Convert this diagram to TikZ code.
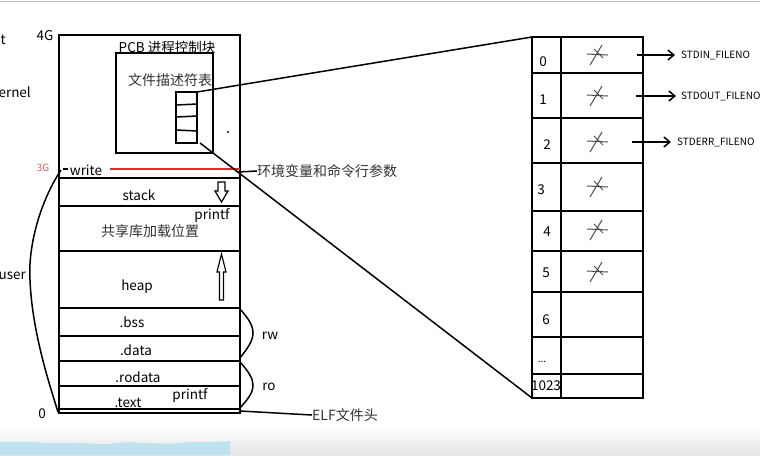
\documentclass[tikz,border=0pt]{standalone}
\usepackage{fontspec}
\setmainfont{Noto Sans CJK SC}
\usetikzlibrary{arrows.meta}
\definecolor{redline}{RGB}{228,40,40}
\definecolor{redtxt}{RGB}{225,90,90}
\definecolor{bandblue}{RGB}{190,226,238}
\begin{document}
\begin{tikzpicture}[x=1pt,y=-1pt,
  lbl/.style={inner sep=0pt, font=\fontsize{13.5}{15}\selectfont, text=black},
  smalllbl/.style={inner sep=0pt, font=\fontsize{10}{12}\selectfont, text=black},
  cjk/.style={inner sep=0pt, font=\fontsize{14}{16}\selectfont, text=black!80},
  boxline/.style={line width=2pt, black},
  thin/.style={line width=1.5pt, black},
  tick/.pic={\draw[black!70, line width=1pt] (-10,-1)--(11,0) (-7,10)--(5,-10) (-3,-6)--(6,3);},
  hollowarrow/.style={draw=black, line width=1.2pt, fill=white}
]
\useasboundingbox (0,0) rectangle (760,455);
\clip (0,0) rectangle (760,455);
\fill[white] (0,0) rectangle (760,455);
% screenshot frame
\shade[top color=white, bottom color=black!10] (0,425) rectangle (760,455);
\fill[bandblue] (0,455) -- (0,442) .. controls (30,441) and (50,444) .. (70,443)
  .. controls (90,442) and (100,446) .. (115,443) .. controls (140,441) and (160,445) .. (180,443)
  .. controls (200,441) and (215,443) .. (230,441) -- (230,455) -- cycle;
\draw[black!25, line width=1.5pt] (0,1.5) -- (760,1.5);

% ---------------- memory layout box ----------------
\coordinate (mtl) at (59,35);
\coordinate (mbr) at (240,413);
\draw[boxline] (mtl) rectangle (mbr);
\foreach \yy in {178,206,251,308,336,361,386,409}
  \draw[boxline] (59,\yy) -- (240,\yy);

% red 3G line
\coordinate (redL) at (110,169);
\coordinate (redR) at (240,169);
\draw[redline, line width=1.6pt] (redL) -- (redR);

% PCB box
\node[lbl] (pcb) at (167,47) {PCB 进程控制块};
\draw[boxline] (116,53) rectangle (213,153);
\node[cjk] (fdt) at (170,80) {文件描述符表};
% small fd table
\draw[thin] (176,92) rectangle (197,143);
\draw[thin] (176,105) -- (197,104);
\draw[thin] (176,117) -- (197,116);
\draw[thin] (176,130) -- (197,131);
\fill[black] (228,132) circle (1.1pt);
\coordinate (fdtop) at (197,92);
\coordinate (fdbot) at (200,143);

% labels inside memory box
\node[lbl] (write) at (86,170) {write};
\draw[thin] (63,169) -- (68,169);
\node[lbl] (stack) at (139,195) {stack};
\node[lbl] (printf1) at (212,216) {printf};
\node[cjk] (shlib) at (150,231) {共享库加载位置};
\node[lbl] (heap) at (137,287) {heap};
\node[lbl] (bss) at (132,322) {.bss};
\node[lbl] (data) at (136,350) {.data};
\node[lbl] (rodata) at (138,377) {.rodata};
\node[lbl] (text) at (128,403) {.text};
\node[lbl] (printf2) at (190,396) {printf};

% down arrow (stack) and up arrow (heap)
\draw[hollowarrow] (218,182) -- (225,182) -- (225,191) -- (228,191) -- (221.5,202) -- (215,191) -- (218,191) -- cycle;
\draw[hollowarrow] (221.5,254) -- (226,272) -- (223.5,272) -- (223.5,300) -- (219.5,300) -- (219.5,272) -- (217,272) -- cycle;

% braces rw / ro
\draw[thin] (240,309) .. controls (248,318) and (253,325) .. (253,333) .. controls (253,342) and (246,350) .. (240,358);
\draw[thin] (240,362) .. controls (248,371) and (253,378) .. (253,385) .. controls (253,394) and (246,401) .. (240,408);
\node[lbl] (rw) at (270,336) {rw};
\node[lbl] (ro) at (269,387) {ro};

% env / elf labels
\node[cjk, anchor=west] (env) at (257,171) {环境变量和命令行参数};
\coordinate (envpt) at (238,172);
\draw[thin] (envpt) -- (env.west);
\node[cjk, anchor=west] (elf) at (312,415) {ELF文件头};
\coordinate (elfpt) at (240,411);
\draw[thin] (elfpt) -- (elf.west);

% left labels
\node[lbl] (g4) at (45,36) {4G};
\node[inner sep=0pt, font=\fontsize{10}{12}\selectfont, text=redtxt] (g3) at (43,168) {3G};
\node[lbl] (zero) at (42,414) {0};
\node[lbl, anchor=east] (kt) at (6,40) {t};
\node[lbl, anchor=east] (kernel) at (31,92) {kernel};
\node[lbl, anchor=east] (user) at (26,276) {user};
\coordinate (c3g) at (61,170);
\coordinate (c0) at (58,412);
\draw[thin] (c3g) .. controls (38,205) and (28,250) .. (30,280) .. controls (32,330) and (48,380) .. (c0);

% ---------------- file descriptor table ----------------
\coordinate (ttl) at (532,37);
\coordinate (tbr) at (643,398);
\coordinate (tbl) at (532,398);
\draw[boxline] (ttl) rectangle (tbr);
\draw[boxline] (561,37) -- (561,398);
\foreach \yy in {73,118,163,211,251,292,337,374}
  \draw[boxline] (532,\yy) -- (643,\yy);
\node[lbl] (i0) at (543,62) {0};
\node[lbl] (i1) at (543,100) {1};
\node[lbl] (i2) at (547,145) {2};
\node[lbl] (i3) at (541,190) {3};
\node[lbl] (i4) at (547,232) {4};
\node[lbl] (i5) at (546,273) {5};
\node[lbl] (i6) at (546,320) {6};
\node[inner sep=0pt, font=\fontsize{10}{12}\selectfont, text=black] (idots) at (542,362) {...};
\node[lbl] (i1023) at (546,386) {1023};
\foreach \yy in {55,96,142,187,230,272}
  \pic at (597,\yy) {tick};

% connectors from the fd table in PCB
\draw[thin] (fdtop) -- (ttl);
\draw[thin] (fdbot) -- (tbl);

% std streams
\node[smalllbl, anchor=west] (sin) at (681,55) {STDIN\_FILENO};
\node[smalllbl, anchor=west] (sout) at (681,96) {STDOUT\_FILENO};
\node[smalllbl, anchor=west] (serr) at (677,142) {STDERR\_FILENO};
\coordinate (a0) at (637,55);
\coordinate (a1) at (636,96);
\coordinate (a2) at (632,142);
\draw[thin, -{Straight Barb[length=6pt,width=10pt]}, shorten >=6pt] (a0) -- (sin.west);
\draw[thin, -{Straight Barb[length=6pt,width=10pt]}, shorten >=5pt] (a1) -- (sout.west);
\draw[thin, -{Straight Barb[length=6pt,width=10pt]}, shorten >=6pt] (a2) -- (serr.west);
\end{tikzpicture}
\end{document}
